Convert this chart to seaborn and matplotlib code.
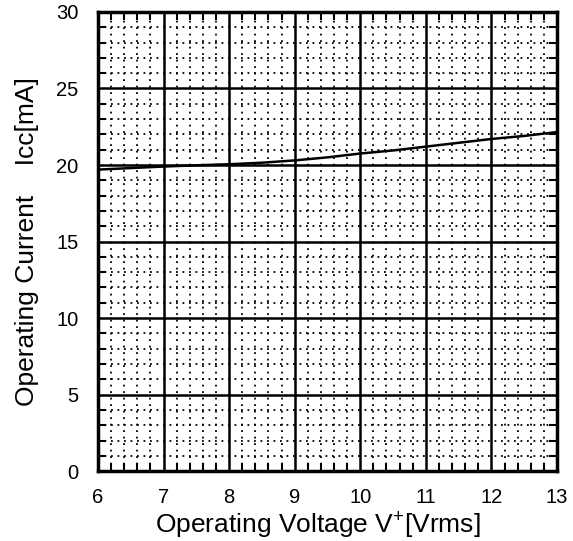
import numpy as np
import matplotlib
matplotlib.use("Agg")
import matplotlib.pyplot as plt
import seaborn as sns
import pandas as pd
from matplotlib.ticker import MultipleLocator

# operating voltage [Vrms] and current [mA]
voltage = [6, 6.5, 7, 7.5, 8, 8.5, 9, 9.5, 10, 10.5, 11, 11.5, 12, 12.5, 13]
current = [19.7, 19.8, 19.9, 19.98, 20.05, 20.15, 20.3, 20.5, 20.75, 20.95, 21.2, 21.45, 21.7, 21.9, 22.15]

sns.set_style("white")
plt.rcParams['font.family'] = ['Liberation Sans', 'DejaVu Sans']
plt.rcParams['text.color'] = 'black'
plt.rcParams['axes.labelcolor'] = 'black'
plt.rcParams['xtick.color'] = 'black'
plt.rcParams['ytick.color'] = 'black'

df = pd.DataFrame({'V': voltage, 'I': current})

fig = plt.figure(figsize=(5.73, 5.41), dpi=100)
ax = fig.add_axes([0.171, 0.129, 0.801, 0.849])

sns.lineplot(data=df, x='V', y='I', color='black', linewidth=1.8, ax=ax, zorder=5)

ax.set_xlim(6, 13)
ax.set_ylim(0, 30)
ax.xaxis.set_major_locator(MultipleLocator(1))
ax.xaxis.set_minor_locator(MultipleLocator(0.2))
ax.yaxis.set_major_locator(MultipleLocator(5))
ax.yaxis.set_minor_locator(MultipleLocator(1))

ax.grid(which='major', color='black', linestyle='-', linewidth=1.8)
ax.grid(which='minor', color='black', linestyle=(0, (1, 2.6)), linewidth=1.3)

for s in ax.spines.values():
    s.set_linewidth(2.5)
    s.set_color('black')

ax.tick_params(which='major', direction='in', length=0, labelsize=14.5, pad=12)
ax.tick_params(axis='y', which='major', pad=14)
ax.tick_params(which='minor', direction='in', length=6, width=1.5,
               top=True, right=True, bottom=True, left=True)

ax.set_xlabel('Operating Voltage V$\\mathregular{^{+}}$[Vrms]', fontsize=19)
ax.xaxis.set_label_coords(0.479, -0.087)
ax.set_ylabel('Operating Current    Icc[mA]', fontsize=19, labelpad=12)

fig.savefig('out.png', dpi=100)
